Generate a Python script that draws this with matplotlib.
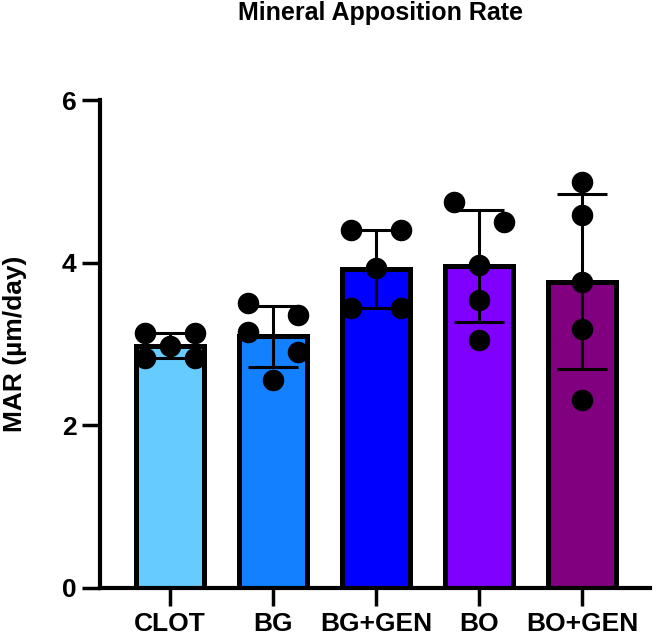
import numpy as np
import matplotlib
matplotlib.use("Agg")
from matplotlib import pyplot as plt

plt.rcParams['font.family'] = ['Liberation Sans', 'DejaVu Sans']
plt.rcParams['font.weight'] = 'bold'

groups = ['CLOT', 'BG', 'BG+GEN', 'BO', 'BO+GEN']
colors = ['#66CCFF', '#1380FF', '#0000FF', '#8000FF', '#800080']

# individual MAR values (um/day)
clot = [3.13, 3.13, 2.98, 2.83, 2.83]
bg = [3.50, 3.36, 3.15, 2.90, 2.56]
bg_gen = [4.40, 4.40, 3.93, 3.44, 3.44]
bo = [4.74, 4.50, 3.97, 3.54, 3.05]
bo_gen = [4.99, 4.58, 3.76, 3.19, 2.31]
data = [clot, bg, bg_gen, bo, bo_gen]

means = [np.mean(d) for d in data]
sds = [np.std(d, ddof=1) for d in data]


def pair_offsets(vals, dx=0.24, thresh=0.3):
    # points closer than thresh get paired side by side (closest pairs first),
    # higher value goes left; the rest stay centred
    v = sorted(vals, reverse=True)
    offs = [0.0] * len(v)
    used = [False] * len(v)
    gaps = sorted((v[k] - v[k + 1], k) for k in range(len(v) - 1))
    for g, k in gaps:
        if g < thresh and not used[k] and not used[k + 1]:
            used[k] = used[k + 1] = True
            offs[k], offs[k + 1] = -dx, dx
    return v, offs


fig = plt.figure(figsize=(6.62, 6.37), dpi=100)
ax = fig.add_axes([0.151, 0.077, 0.831, 0.766])

x = np.arange(len(groups))
ax.bar(x, means, width=0.66, color=colors, edgecolor='black', linewidth=3.6, zorder=2)
ax.errorbar(x, means, yerr=sds, fmt='none', ecolor='black', elinewidth=2.2,
            capsize=18, capthick=2.2, zorder=3)

for i, d in enumerate(data):
    v, offs = pair_offsets(d)
    ax.scatter(i + np.array(offs), v, s=210, color='black', zorder=4, clip_on=False)

ax.set_ylim(0, 6)
ax.set_yticks([0, 2, 4, 6])
ax.set_xlim(-0.68, 4.66)
ax.set_xticks(x)
ax.set_xticklabels(groups, fontsize=19, fontweight='bold')
ax.tick_params(axis='y', labelsize=19, width=2.5, length=13, pad=4)
ax.tick_params(axis='x', width=2.5, length=13, pad=4)
for lab in ax.get_yticklabels():
    lab.set_fontweight('bold')
ax.set_ylabel('MAR (µm/day)', fontsize=19, fontweight='bold', labelpad=25)

ax.spines['top'].set_visible(False)
ax.spines['right'].set_visible(False)
ax.spines['left'].set_linewidth(3)
ax.spines['bottom'].set_linewidth(3)

fig.text(380 / 662, 1 - 20 / 637, 'Mineral Apposition Rate', ha='center', va='baseline',
         fontsize=18, fontweight='bold')

fig.savefig('out.png', dpi=100)
